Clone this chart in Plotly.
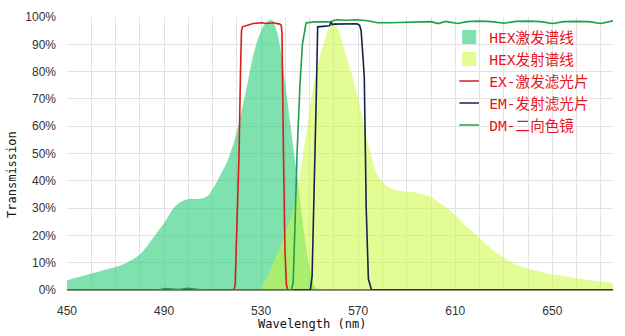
import plotly.graph_objects as go

# HEX excitation spectrum (nm, %)
ex_spec_wl = [450, 455, 460, 465, 470, 475, 480, 485, 490, 495, 500, 505, 508, 510, 512, 514, 516, 518,
              520, 522, 524, 526, 528, 530, 532, 534, 535, 536, 537, 538, 539, 540, 541, 542, 543, 544,
              545, 546, 547, 548, 549, 550, 551, 552, 553, 554]
ex_spec_val = [3.6, 4.8, 6.0, 7.2, 8.4, 10.2, 13.0, 18.5, 24.5, 31.0, 33.3, 33.4, 34.5, 37, 40, 43.5, 47, 52,
               58, 66, 74, 83, 90, 95, 98, 99, 98.5, 96, 93, 88, 82, 75, 68, 61, 54, 47,
               41, 33, 26, 19, 13, 8, 4, 1.5, 0.5, 0]

# HEX emission spectrum
em_spec_wl = [529.5, 532, 535, 538, 540, 542, 544, 546, 547, 548, 549, 550, 551, 552, 553, 554, 555, 556,
              557, 558, 559, 560, 561, 562, 563, 564, 565, 566, 568, 570, 572, 574, 576, 578, 582, 586,
              590, 595, 600, 605, 610, 615, 620, 625, 630, 635, 640, 645, 650, 655, 660, 665, 670, 675]
em_spec_val = [0, 4, 10, 16, 21, 26, 33, 42, 48, 54, 60, 66, 72, 77, 81, 85, 88, 91,
               94, 96, 97, 97.5, 97, 95, 92, 89, 86, 83, 77, 70, 62, 54, 47, 42, 38, 36.5,
               36, 35.5, 34, 31, 27.5, 23, 19, 15, 11.7, 9.3, 7.8, 6.8, 5.8, 5.0, 4.3, 3.7, 3.1, 2.6]

# EX excitation filter
ex_filter_wl = [450, 518.8, 519.3, 520, 520.9, 521.5, 521.9, 522.3, 524, 526.7, 530.1, 532.2, 534.9,
                537.7, 538.3, 538.6, 539.2, 539.8, 540.4, 541, 675]
ex_filter_val = [0, 0, 2, 20, 50, 80, 95, 96.4, 96.8, 97.6, 97.9, 97.6, 97.9,
                 97.4, 97, 94, 50, 15, 2, 0, 0]

# EM emission filter
em_filter_wl = [450, 550.3, 551, 552, 552.7, 553.3, 555, 557, 558.2, 558.8, 559.3, 560, 562, 564, 566,
                568, 569.5, 570.6, 571.2, 572, 572.5, 573.3, 574.2, 575.5, 675]
em_filter_val = [0, 0, 5, 40, 70, 96.4, 96.5, 96.6, 96.8, 98.3, 97.2, 97.4, 97.4, 97.5, 97.6,
                 97.6, 97.5, 97, 95, 85, 78, 30, 4, 0, 0]

# DM dichroic mirror
dm_wl = [450, 488, 490, 493, 496, 500, 503, 506, 542.5, 543.2, 544, 544.8, 546, 547, 548.5, 552, 558,
         561, 565, 569, 574, 578, 583, 590, 595, 600, 603, 606, 611, 615, 620, 625, 630, 635, 640,
         645, 650, 655, 660, 665, 670, 675]
dm_val = [0, 0, 0.5, 0.3, 0.2, 0.6, 0.3, 0, 0, 3, 25, 50, 75, 90, 97.8, 98.2, 98.2,
          99, 98.8, 99, 98.6, 97.9, 97.9, 98, 98.3, 98.3, 97.6, 98.4, 97.6, 98.3, 98.5, 98.3, 97.7, 98.4, 98.5,
          98.3, 97.6, 98.3, 98.4, 98.3, 97.6, 98.6]

names = ["HEX激发谱线", "HEX发射谱线", "EX-激发滤光片", "EM-发射滤光片", "DM-二向色镜"]
x_ticks = [450, 490, 530, 570, 610, 650]
y_ticks = list(range(0, 101, 10))
y_ticktext = [f"{v}%" for v in y_ticks]

fill_ex = "rgba(40,205,120,0.6)"
fill_em = "rgba(205,250,60,0.55)"
c_ex = "#d91c1c"
c_em = "#14244e"
c_dm = "#1e9e50"

fig = go.Figure()
fig.add_trace(go.Scatter(x=ex_spec_wl, y=ex_spec_val, mode="lines", fill="tozeroy",
                         fillcolor=fill_ex, line=dict(width=0, color=fill_ex), showlegend=False,
                         line_shape="spline"))
fig.add_trace(go.Scatter(x=em_spec_wl, y=em_spec_val, mode="lines", fill="tozeroy",
                         fillcolor=fill_em, line=dict(width=0, color=fill_em), showlegend=False,
                         line_shape="spline"))
for wl, val, col in [(ex_filter_wl, ex_filter_val, c_ex), (em_filter_wl, em_filter_val, c_em), (dm_wl, dm_val, c_dm)]:
    fig.add_trace(go.Scatter(x=wl, y=val, mode="lines", line=dict(width=1.6, color=col), showlegend=False))

# legend entries
for i, (nm, col, sym) in enumerate([(names[0], "rgb(126,225,174)", "square"),
                                     (names[1], "rgb(227,252,148)", "square"),
                                     (names[2], c_ex, "line-ew"),
                                     (names[3], c_em, "line-ew"),
                                     (names[4], c_dm, "line-ew")]):
    if sym == "square":
        mk = dict(symbol="square", size=14, color=col, line=dict(width=0))
    else:
        mk = dict(symbol="line-ew", size=14, color=col, line=dict(width=1.6, color=col))
    fig.add_trace(go.Scatter(x=[None], y=[None], mode="markers", marker=mk, name=nm,
                             legendgroup=f"g{i}"))

W, H = 625, 336
L, R, T, B = 67, 12, 10, 46
pw, ph = W - L - R, H - T - B

grid = "#e3e3e3"
fig.update_layout(
    width=W, height=H, margin=dict(l=L, r=R, t=T, b=B),
    paper_bgcolor="white", plot_bgcolor="white",
    showlegend=True,
    legend=dict(x=0.70, y=0.985, xanchor="left", yanchor="top", bgcolor="rgba(0,0,0,0)",
                font=dict(family="DejaVu Sans Mono, Noto Sans CJK SC", size=14.6, color="#e8141c"),
                tracegroupgap=0, itemwidth=30),
    xaxis=dict(range=[450, 675], tickvals=x_ticks, showgrid=True, gridcolor=grid, gridwidth=1,
               minor=dict(dtick=10, tick0=450, showgrid=True, gridcolor=grid, gridwidth=1),
               zeroline=False, showline=True, linecolor="#8a9080", linewidth=1,
               ticks="", ticklabelstandoff=10,
               tickfont=dict(family="Liberation Sans, Arial", size=12, color="#333")),
    yaxis=dict(range=[0, 100], tickvals=y_ticks, ticktext=y_ticktext, showgrid=True, gridcolor=grid,
               gridwidth=1, zeroline=False, showline=False, ticks="", ticklabelstandoff=10,
               tickfont=dict(family="Liberation Sans, Arial", size=12, color="#333")),
    annotations=[
        dict(text="Wavelength (nm)", x=(312 - L) / pw, y=1 - (325 - T) / ph, xref="paper", yref="paper",
             xanchor="center", yanchor="middle", showarrow=False,
             font=dict(family="DejaVu Sans Mono", size=12, color="#111")),
        dict(text="Transmission", x=(12 - L) / pw, y=1 - (172 - T) / ph, xref="paper", yref="paper",
             xanchor="center", yanchor="middle", textangle=-90, showarrow=False,
             font=dict(family="DejaVu Sans Mono", size=12, color="#111")),
    ],
)

fig.write_html("out.html")
